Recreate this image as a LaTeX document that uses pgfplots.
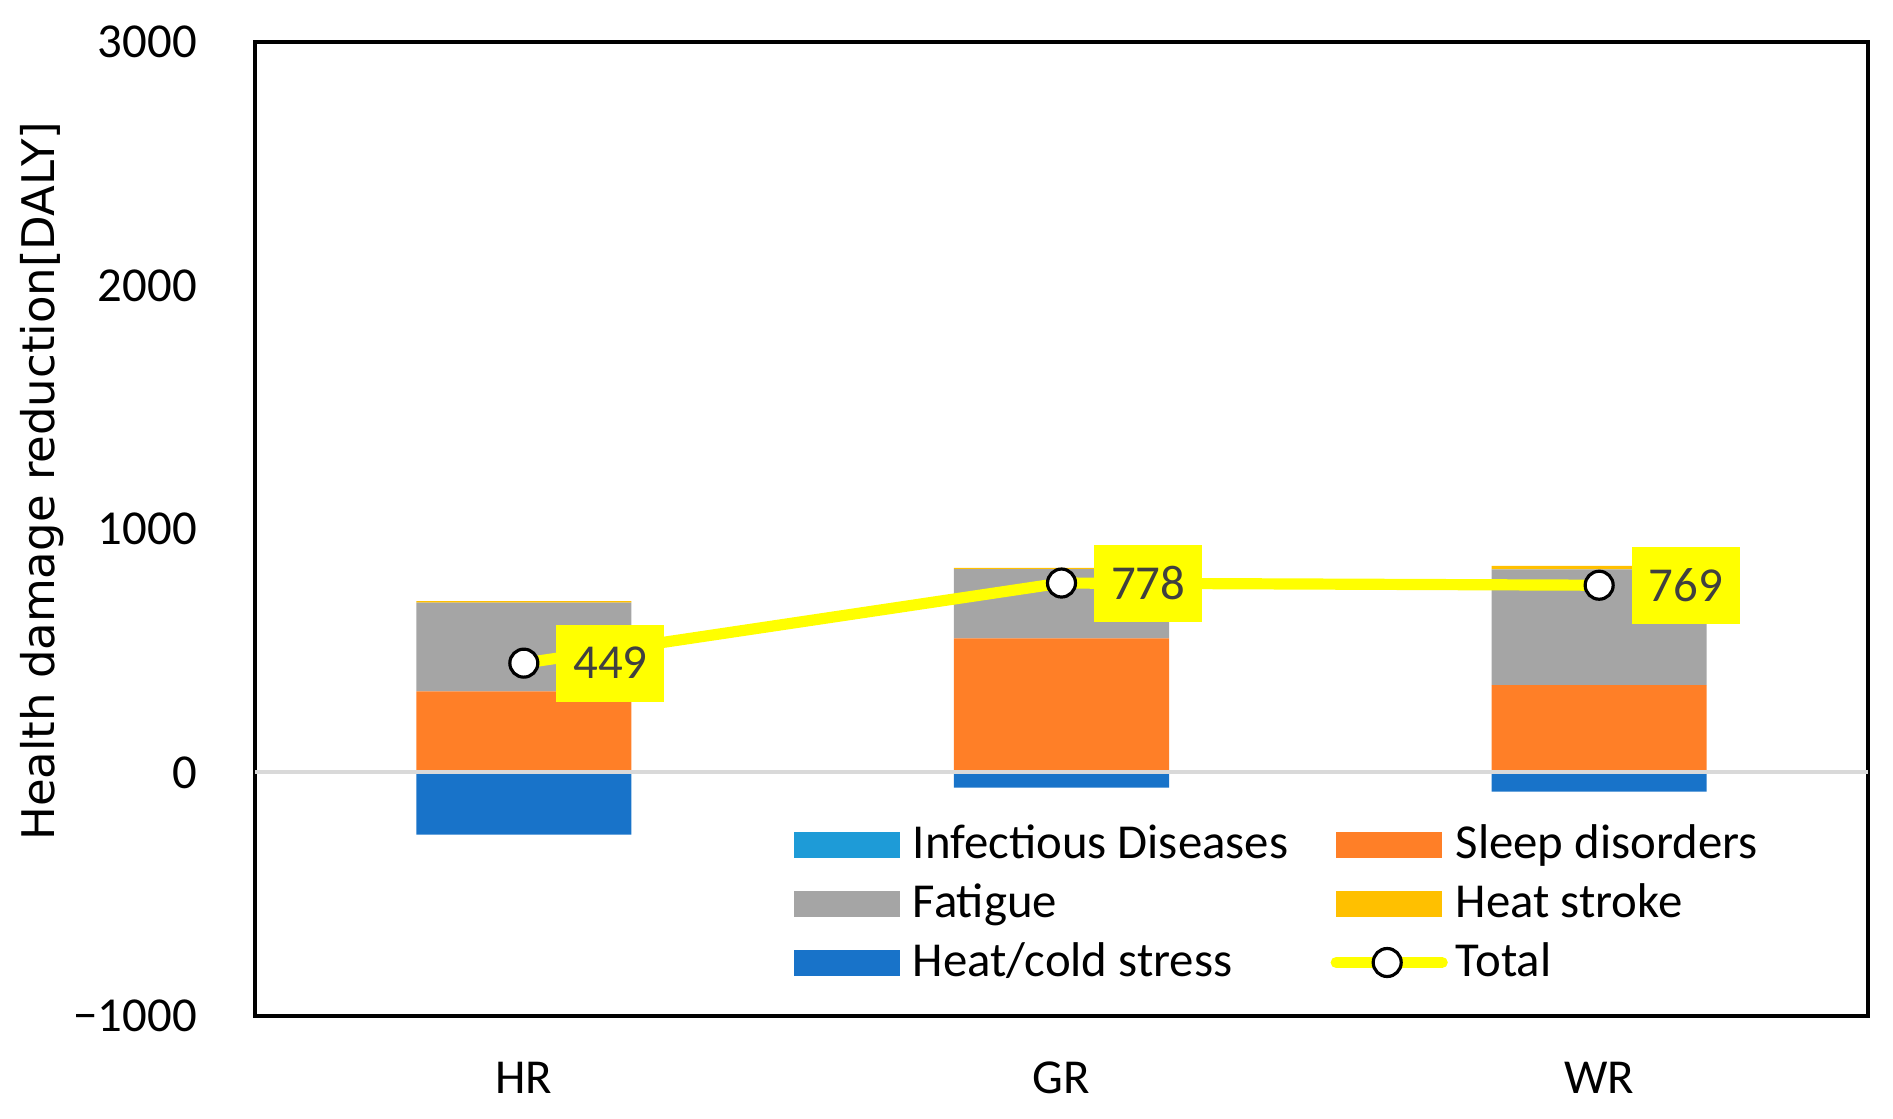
\documentclass[border=0pt]{standalone}
\usepackage{pgfplots}
\pgfplotsset{compat=1.18}
\usepackage{fontspec}
\setmainfont{Carlito}
\newfontfamily\labelfont{DejaVu Sans}
\newcommand\tickfont{\fontsize{12.2}{14.6}\selectfont}
\definecolor{infect}{HTML}{1E9BD7}
\definecolor{sleep}{HTML}{FF7F27}
\definecolor{fatigue}{HTML}{A5A5A5}
\definecolor{heatstroke}{HTML}{FFC000}
\definecolor{coldc}{HTML}{1873C9}
\definecolor{zeroline}{HTML}{D9D9D9}
\definecolor{labeltext}{HTML}{404040}
\definecolor{totalc}{HTML}{FFFF00}
\begin{document}
\begin{tikzpicture}
\pgfplotsset{
  base/.style={
    width=403.25pt, height=243.5pt, scale only axis,
    xmin=-0.5, xmax=2.5, ymin=-1000, ymax=3000,
  }
}
\begin{axis}[base, name=a,
  axis line style={line width=1pt, black},
  xtick={0,1,2}, xticklabels={HR,GR,WR},
  ytick={-1000,0,1000,2000,3000}, yticklabels={−1000,0,1000,2000,3000},
  major tick length=0pt, tick style={draw=none},
  ticklabel style={font=\tickfont},
  yticklabel style={xshift=-11pt},
  xticklabel style={yshift=-8pt},
  ylabel={Health damage reduction[DALY]},
  ylabel style={font=\labelfont\fontsize{11.24}{13.5}\selectfont, at={(axis description cs:-0.1320,0.549)}, anchor=center},
  ybar stacked, bar width=0.4,
]
\addplot[fill=infect, draw=none] coordinates {(0,0) (1,0) (2,0)};
\addplot[fill=sleep, draw=none] coordinates {(0,333) (1,551) (2,359)};
\addplot[fill=fatigue, draw=none] coordinates {(0,365) (1,284) (2,475)};
\addplot[fill=heatstroke, draw=none] coordinates {(0,6) (1,5) (2,14)};
\end{axis}
\begin{axis}[base, hide axis,
  /pgf/number format/assume math mode=true,
  legend columns=2,
  legend cell align=left,
  legend style={draw=none, fill=none, inner sep=0pt, outer sep=0pt,
    at={(axis description cs:0.3342,0.2045)}, anchor=north west,
    font=\tickfont, row sep=0.75pt,
    /tikz/every even column/.append style={column sep=8.6pt}},
  legend image code/.code={\fill[#1] (0pt,-3.25pt) rectangle (26.5pt,3.25pt); \path (27.7pt,0pt);},
]
\addlegendimage{fill=infect, draw=none}
\addlegendimage{fill=sleep, draw=none}
\addlegendimage{fill=fatigue, draw=none}
\addlegendimage{fill=heatstroke, draw=none}
\addlegendimage{fill=coldc, draw=none}
\addlegendimage{legend image code/.code={
  \draw[totalc, line width=2.8pt, line cap=round] (0pt,0pt) -- (26.5pt,0pt);
  \draw[black, fill=white, line width=0.8pt] (12.75pt,0pt) circle (3.5pt);
  \path (27.7pt,0pt);}}
\addplot[forget plot, ybar, bar width=0.4, bar shift=0pt, fill=coldc, draw=none] coordinates {(0,-255) (1,-62) (2,-79)};
\addplot[forget plot, sharp plot, line width=1pt, color=zeroline] coordinates {(-0.5,0) (2.5,0)};
\addplot[forget plot, sharp plot, color=totalc, line width=2.8pt, mark=*, mark size=3.5pt,
  mark options={fill=white, draw=black, line width=0.8pt},
  nodes near coords,
  every node near coord/.style={anchor=west, xshift=7.75pt, fill=totalc, text=labeltext,
    minimum width=27pt, minimum height=19.25pt, inner sep=0pt, font=\tickfont}]
  coordinates {(0,449) (1,778) (2,769)};
\legend{Infectious Diseases, Sleep disorders, Fatigue, Heat stroke, Heat/cold stress, Total}
\end{axis}
\pgfresetboundingbox
\path[use as bounding box] ([shift={(-63.75pt,-25.75pt)}]a.south west) rectangle ([shift={(6.25pt,10.5pt)}]a.north east);
\end{tikzpicture}
\end{document}
